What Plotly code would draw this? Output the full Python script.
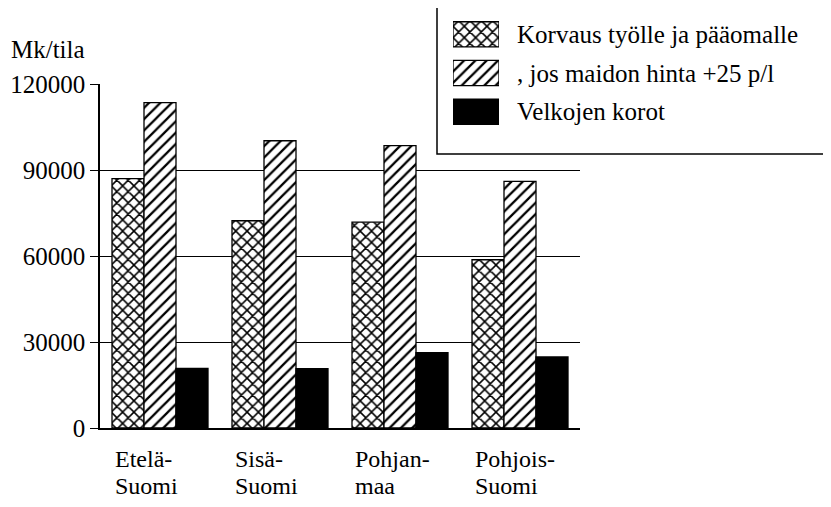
import plotly.graph_objects as go

# The page body has an 8 px margin, so the figure is drawn 8 px in from the
# window's top-left corner; positions below are given in window pixels.
OFF = 8
W, H = 831 - OFF, 507 - OFF

regions = ["Etelä-<br>Suomi", "Sisä-<br>Suomi", "Pohjan-<br>maa", "Pohjois-<br>Suomi"]
korvaus = [87000, 72300, 71800, 58700]
korvaus_plus = [113500, 100200, 98500, 86000]
velkojen_korot = [20800, 20700, 26300, 24800]

series_names = ["Korvaus työlle ja pääomalle", ", jos maidon hinta +25 p/l", "Velkojen korot"]
y_ticks = [0, 30000, 60000, 90000, 120000]
y_title = "Mk/tila"

FONT = "Liberation Serif, Times New Roman, serif"

def px_x(p):
    return (p - OFF) / W

def px_y(p):
    return 1 - (p - OFF) / H

x_idx = list(range(len(regions)))

patterns = [
    dict(shape="x", fgcolor="black", bgcolor="white", size=8, solidity=0.35),
    dict(shape="/", fgcolor="black", bgcolor="white", size=8, solidity=0.28),
    None,
]
colors = ["white", "white", "black"]

fig = go.Figure()
for name, vals, pat, col in zip(series_names, [korvaus, korvaus_plus, velkojen_korot], patterns, colors):
    marker = dict(color=col, line=dict(color="black", width=1.3))
    if pat:
        marker["pattern"] = pat
    fig.add_trace(go.Bar(x=x_idx, y=vals, name=name, marker=marker, showlegend=False,
                         xaxis="x", yaxis="y"))

# legend swatches (separate small subplot)
for i, (name, pat, col) in enumerate(zip(series_names, patterns, colors)):
    marker = dict(color=col, line=dict(color="black", width=1.3))
    if pat:
        marker["pattern"] = pat
    fig.add_trace(go.Bar(x=[1], y=[i], base=[0], orientation="h", width=0.65,
                         marker=marker, showlegend=False, hoverinfo="skip",
                         xaxis="x2", yaxis="y2"))

annotations = []
for i, lab in enumerate(regions):
    for j, line in enumerate(lab.split("<br>")):
        annotations.append(dict(x=i, y=px_y(459 + 27 * j), xref="x", yref="paper", text=line,
                                xanchor="left", yanchor="middle", xshift=-47, align="left",
                                showarrow=False, font=dict(family=FONT, size=24, color="black")))
for i, name in enumerate(series_names):
    annotations.append(dict(x=px_x(515), y=i, xref="paper", yref="y2", text=name,
                            xanchor="left", yanchor="middle", showarrow=False,
                            font=dict(family=FONT, size=25, color="black")))
annotations.append(dict(x=px_x(9), y=px_y(50), xref="paper", yref="paper", text=y_title,
                        xanchor="left", yanchor="middle", showarrow=False,
                        font=dict(family=FONT, size=25, color="black")))

fig.update_layout(
    width=W, height=H,
    margin=dict(l=0, r=0, t=0, b=0),
    paper_bgcolor="white", plot_bgcolor="rgba(0,0,0,0)",
    template="none",
    font=dict(family=FONT, color="black"),
    barmode="group", bargap=0.2, bargroupgap=0,
    xaxis=dict(domain=[px_x(100), px_x(580)], range=[-0.5, 3.5], showticklabels=False,
               ticks="", showgrid=False, zeroline=False, showline=True,
               linecolor="black", linewidth=1.5, automargin=False, fixedrange=True),
    yaxis=dict(domain=[px_y(428), px_y(84)], range=[0, 120000], tickvals=y_ticks,
               ticktext=[str(v) for v in y_ticks], ticks="outside", ticklen=8,
               tickcolor="black", tickwidth=1.2, showgrid=True, gridcolor="black",
               gridwidth=1.2, zeroline=False, showline=True, linecolor="black",
               linewidth=1.5, automargin=False, fixedrange=True,
               tickfont=dict(family=FONT, size=25, color="black")),
    xaxis2=dict(domain=[px_x(453), px_x(499)], range=[0, 1], visible=False,
                anchor="y2", fixedrange=True),
    yaxis2=dict(domain=[px_y(131), px_y(15)], range=[2.5, -0.5], visible=False,
                anchor="x2", fixedrange=True),
    annotations=annotations,
    shapes=[dict(type="rect", xref="paper", yref="paper", x0=px_x(437), x1=1.02,
                 y0=px_y(154), y1=px_y(4), fillcolor="white",
                 line=dict(color="black", width=1.5), layer="between")],
    showlegend=False,
)

fig.write_html("out.html")
